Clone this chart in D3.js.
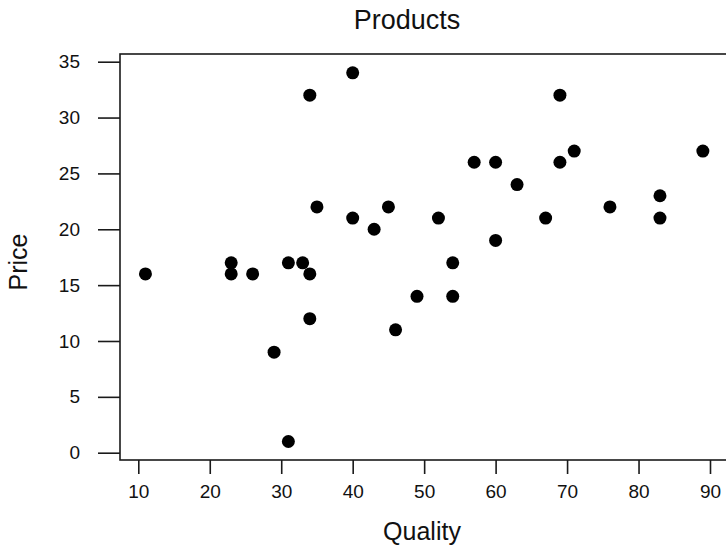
<!DOCTYPE html>
<html>
<head>
<meta charset="utf-8">
<script src="https://cdn.jsdelivr.net/npm/d3@7"></script>
<style>
  html, body { margin: 0; padding: 0; background: #fff; overflow: hidden; }
  svg { display: block; }
  text { font-family: Arial, "Liberation Sans", sans-serif; fill: #111; }
</style>
</head>
<body>
<svg id="chart" width="726" height="547"></svg>
<script>
const title = "Products";
const xLabel = "Quality";
const yLabel = "Price";
const quality = [11, 23, 23, 26, 31, 33, 34, 34, 29, 31, 35, 34, 40, 40, 43, 45, 46, 49, 52, 54, 54, 57, 60, 60, 63, 67, 69, 69, 71, 76, 83, 83, 89];
const price   = [16, 17, 16, 16, 17, 17, 16, 12,  9,  1, 22, 32, 34, 21, 20, 22, 11, 14, 21, 17, 14, 26, 26, 19, 24, 21, 32, 26, 27, 22, 23, 21, 27];
const xTicks = [10, 20, 30, 40, 50, 60, 70, 80, 90];
const yTicks = [0, 5, 10, 15, 20, 25, 30, 35];

const svg = d3.select("#chart");
const x = d3.scaleLinear().domain([10, 90]).range([138.3, 710]);
const y = d3.scaleLinear().domain([0, 35]).range([452.7, 61.7]);

const frame = { left: 120, top: 54, right: 729, bottom: 460 };

// frame
svg.append("rect")
  .attr("x", frame.left).attr("y", frame.top)
  .attr("width", frame.right - frame.left).attr("height", frame.bottom - frame.top)
  .attr("fill", "none").attr("stroke", "#1a1a1a").attr("stroke-width", 1.6);

// y axis
const yAxis = svg.append("g")
  .attr("transform", `translate(${frame.left},0)`)
  .call(d3.axisLeft(y).tickValues(yTicks).tickSize(22).tickPadding(18));
yAxis.select(".domain").remove();
yAxis.selectAll("line").attr("stroke", "#1a1a1a").attr("stroke-width", 1.6);
yAxis.selectAll("text").attr("font-size", 19).attr("fill", "#1a1a1a")
  .style("font-family", "Arial, 'Liberation Sans', sans-serif");

// x axis
const xAxis = svg.append("g")
  .attr("transform", `translate(0,${frame.bottom})`)
  .call(d3.axisBottom(x).tickValues(xTicks).tickSize(14).tickPadding(11));
xAxis.select(".domain").remove();
xAxis.selectAll("line").attr("stroke", "#1a1a1a").attr("stroke-width", 1.6);
xAxis.selectAll("text").attr("font-size", 19).attr("fill", "#1a1a1a")
  .style("font-family", "Arial, 'Liberation Sans', sans-serif");

// points
const pts = quality.map((q, i) => ({ q, p: price[i] }));
svg.append("g").selectAll("circle").data(pts).join("circle")
  .attr("cx", d => x(d.q)).attr("cy", d => y(d.p))
  .attr("r", 6.5).attr("fill", "#000");

// title and labels
svg.append("text").attr("x", 407).attr("y", 29).attr("text-anchor", "middle")
  .attr("font-size", 27).text(title);
svg.append("text").attr("x", 422).attr("y", 540).attr("text-anchor", "middle")
  .attr("font-size", 25).text(xLabel);
svg.append("text").attr("transform", "translate(27,262) rotate(-90)")
  .attr("text-anchor", "middle").attr("font-size", 25).text(yLabel);
</script>
</body>
</html>
